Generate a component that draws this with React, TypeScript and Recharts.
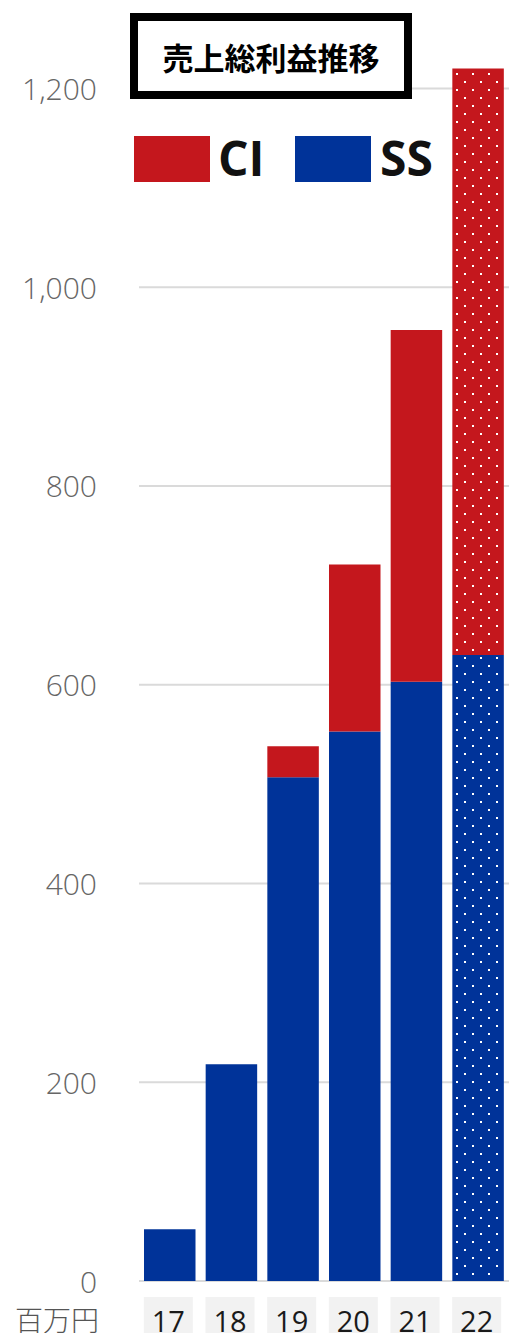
import React from 'react';
import { BarChart, Bar, XAxis, YAxis, CartesianGrid, Cell, Legend } from 'recharts';

const years = ['17', '18', '19', '20', '21', '22'];
const ssValues = [52, 218, 507, 553, 603, 630];
const ciValues = [0, 0, 31, 168, 354, 590];
const yTicks = [0, 200, 400, 600, 800, 1000, 1200];
const seriesNames = { ci: 'CI', ss: 'SS' };
const title = '売上総利益推移';
const unitLabel = '百万円';

const RED = '#C4171D';
const BLUE = '#003399';

const data = years.map((y, i) => ({ year: y, ss: ssValues[i], ci: ciValues[i] }));

const YTick = (props: any) => {
  const { y, payload } = props;
  return (
    <text
      x={97}
      y={y}
      textAnchor="end"
      dominantBaseline="central"
      fill="#666666"
      fontSize={30}
      fontFamily="'Open Sans', sans-serif"
      fontWeight={300}
    >
      {Number(payload.value).toLocaleString('en-US')}
    </text>
  );
};

const XTick = (props: any) => {
  const { x, payload } = props;
  return (
    <g>
      <rect x={x - 26} y={1297} width={49} height={40} fill="#f2f2f2" />
      <text
        x={x - 1.5}
        y={1320}
        textAnchor="middle"
        dominantBaseline="central"
        fill="#1a1a1a"
        fontSize={29}
        fontFamily="'Open Sans', sans-serif"
      >
        {payload.value}
      </text>
    </g>
  );
};

const LegendContent = () => {
  const txt: React.CSSProperties = {
    position: 'absolute',
    top: -1,
    fontFamily: "'Open Sans', sans-serif",
    fontWeight: 700,
    fontSize: 48,
    lineHeight: '46px',
    color: '#111',
    whiteSpace: 'nowrap',
  };
  return (
    <div style={{ position: 'relative', width: 320, height: 46 }}>
      <div style={{ position: 'absolute', left: 0, top: 0, width: 76, height: 46, background: RED }} />
      <div style={{ ...txt, left: 84 }}>{seriesNames.ci}</div>
      <div style={{ position: 'absolute', left: 161, top: 0, width: 76, height: 46, background: BLUE }} />
      <div style={{ ...txt, left: 246 }}>{seriesNames.ss}</div>
    </div>
  );
};

export default function App() {
  return (
    <div style={{ position: 'absolute', left: 0, top: 0, width: 514, height: 1333, background: '#fff', overflow: 'hidden' }}>
      <BarChart
        width={514}
        height={1333}
        data={data}
        margin={{ top: 38.8, right: 5, bottom: 0, left: 0 }}
        barSize={51.5}
      >
        <defs>
          <pattern id="dotsRed" patternUnits="userSpaceOnUse" width={16} height={16}>
            <rect x={0} y={0} width={16} height={16} fill={RED} />
            <rect x={8} y={9} width={2} height={2} fill="#ffffff" />
            <rect x={0} y={1} width={2} height={2} fill="#ffffff" />
          </pattern>
          <pattern id="dotsBlue" patternUnits="userSpaceOnUse" width={16} height={16}>
            <rect x={0} y={0} width={16} height={16} fill={BLUE} />
            <rect x={8} y={9} width={2} height={2} fill="#ffffff" />
            <rect x={0} y={1} width={2} height={2} fill="#ffffff" />
          </pattern>
        </defs>
        <CartesianGrid vertical={false} horizontalValues={yTicks} stroke="#dadada" strokeWidth={2} />
        <XAxis
          dataKey="year"
          height={52}
          axisLine={false}
          tickLine={false}
          tick={<XTick />}
          interval={0}
        />
        <YAxis
          width={139}
          domain={[0, 1250]}
          ticks={yTicks}
          axisLine={false}
          tickLine={false}
          tick={<YTick />}
          interval={0}
        />
        <Legend
          layout="vertical"
          verticalAlign="middle"
          align="center"
          content={<LegendContent />}
          wrapperStyle={{ position: 'absolute', left: 134, top: 136, width: 320, height: 46 }}
        />
        <Bar dataKey="ss" name={seriesNames.ss} stackId="a" fill={BLUE} isAnimationActive={false}>
          {data.map((d, i) => (
            <Cell key={d.year} fill={i === data.length - 1 ? 'url(#dotsBlue)' : BLUE} />
          ))}
        </Bar>
        <Bar dataKey="ci" name={seriesNames.ci} stackId="a" fill={RED} isAnimationActive={false}>
          {data.map((d, i) => (
            <Cell key={d.year} fill={i === data.length - 1 ? 'url(#dotsRed)' : RED} />
          ))}
        </Bar>
      </BarChart>
      <div
        style={{
          position: 'absolute',
          left: 130,
          top: 13,
          width: 282,
          height: 86,
          boxSizing: 'border-box',
          border: '8px solid #000',
          background: '#fff',
          display: 'flex',
          alignItems: 'center',
          justifyContent: 'center',
          fontFamily: "'Noto Sans CJK JP', sans-serif",
          fontWeight: 700,
          fontSize: 31,
          color: '#000',
          whiteSpace: 'nowrap',
        }}
      >
        {title}
      </div>
      <div
        style={{
          position: 'absolute',
          left: 15,
          top: 1299,
          height: 40,
          lineHeight: '40px',
          fontFamily: "'Noto Sans CJK JP', sans-serif",
          fontWeight: 300,
          fontSize: 28,
          color: '#555',
          whiteSpace: 'nowrap',
        }}
      >
        {unitLabel}
      </div>
    </div>
  );
}
